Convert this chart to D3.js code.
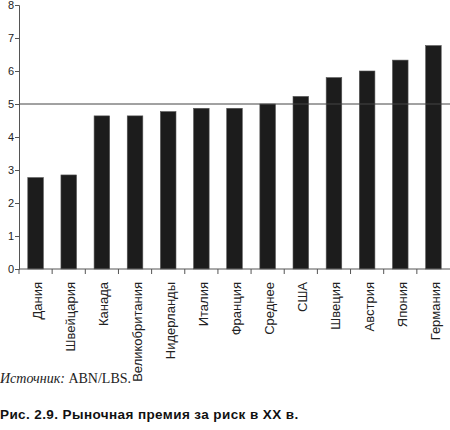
<!DOCTYPE html>
<html>
<head>
<meta charset="utf-8">
<script src="https://cdn.jsdelivr.net/npm/d3@7"></script>
<style>
  body { margin: 0; background: #fff; }
  svg { display: block; }
</style>
</head>
<body>
<div class="chart"></div>
<script>
// data
var countries = ["Дания", "Швейцария", "Канада", "Великобритания", "Нидерланды", "Италия",
  "Франция", "Среднее", "США", "Швеция", "Австрия", "Япония", "Германия"];
var premiums = [2.77, 2.85, 4.64, 4.64, 4.77, 4.87, 4.87, 5.0, 5.23, 5.8, 6.0, 6.33, 6.77];
var yTicks = [0, 1, 2, 3, 4, 5, 6, 7, 8];
var averageLine = 5;

var svgWidth = 450;
var svgHeight = 430;

// chart area
var margin = { top: 5, right: 0, bottom: 161, left: 19 };
var chartWidth = svgWidth - margin.left - margin.right;
var chartHeight = svgHeight - margin.top - margin.bottom;

var svg = d3.select(".chart")
  .append("svg")
  .attr("width", svgWidth)
  .attr("height", svgHeight);

var chartGroup = svg.append("g")
  .attr("transform", `translate(${margin.left}, ${margin.top})`);

var xScale = d3.scaleBand()
  .domain(countries)
  .range([0, chartWidth])
  .paddingInner(0.53)
  .paddingOuter(0.265);

var yScale = d3.scaleLinear()
  .domain([0, 8])
  .range([chartHeight, 0]);

// bars
chartGroup.selectAll("rect.bar")
  .data(countries)
  .enter()
  .append("rect")
  .attr("class", "bar")
  .attr("x", d => xScale(d))
  .attr("width", xScale.bandwidth())
  .attr("y", (d, i) => yScale(premiums[i]))
  .attr("height", (d, i) => chartHeight - yScale(premiums[i]))
  .attr("fill", "#1c1c1c")
  .attr("stroke", "#555")
  .attr("stroke-width", 0.6);

// reference line at the average
chartGroup.append("line")
  .attr("x1", 0)
  .attr("x2", chartWidth)
  .attr("y1", yScale(averageLine))
  .attr("y2", yScale(averageLine))
  .attr("stroke", "#444")
  .attr("stroke-width", 1);

// y axis
var leftAxis = d3.axisLeft(yScale)
  .tickValues(yTicks)
  .tickSize(4)
  .tickPadding(1)
  .tickFormat(d3.format("d"));

var yAxis = chartGroup.append("g").call(leftAxis);
yAxis.select(".domain").attr("stroke", "#555");
yAxis.selectAll(".tick line").attr("stroke", "#555");
yAxis.selectAll(".tick text")
  .attr("font-family", "Liberation Sans, Arial, sans-serif")
  .attr("font-size", 11)
  .attr("fill", "#222");

// x axis: ticks sit between categories
var xAxisGroup = chartGroup.append("g")
  .attr("transform", `translate(0, ${chartHeight})`);

xAxisGroup.append("line")
  .attr("x1", 0)
  .attr("x2", chartWidth)
  .attr("stroke", "#555");

var step = xScale.step();
xAxisGroup.selectAll("line.tick")
  .data(countries)
  .enter()
  .append("line")
  .attr("class", "tick")
  .attr("x1", (d, i) => i * step)
  .attr("x2", (d, i) => i * step)
  .attr("y1", 0)
  .attr("y2", 5)
  .attr("stroke", "#555");

xAxisGroup.selectAll("text")
  .data(countries)
  .enter()
  .append("text")
  .attr("transform", d => `translate(${xScale(d) + xScale.bandwidth() / 2 + 6.5}, 13) rotate(-90)`)
  .attr("text-anchor", "end")
  .attr("font-family", "Liberation Sans, Arial, sans-serif")
  .attr("font-size", 13)
  .attr("fill", "#222")
  .text(d => d);

// source note
var source = svg.append("text")
  .attr("x", 0)
  .attr("y", 383)
  .attr("font-family", "Liberation Serif, Times New Roman, serif")
  .attr("font-size", 14)
  .attr("fill", "#222");
source.append("tspan").attr("font-style", "italic").text("Источник: ");
source.append("tspan").text("ABN/LBS.");

// caption
svg.append("text")
  .attr("x", 0)
  .attr("y", 419)
  .attr("font-family", "Liberation Sans, Arial, sans-serif")
  .attr("font-size", 13.5)
  .attr("font-weight", "bold")
  .attr("letter-spacing", 0.4)
  .attr("fill", "#111")
  .text("Рис. 2.9. Рыночная премия за риск в XX в.");
</script>
</body>
</html>
